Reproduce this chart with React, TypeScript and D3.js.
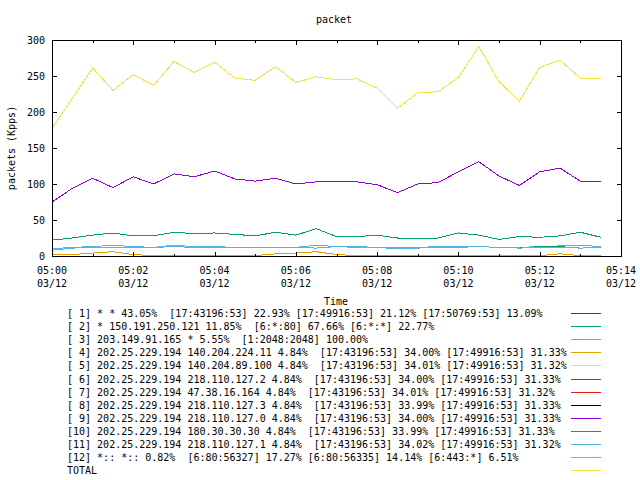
import React from 'react';
import * as d3 from 'd3';

// sample times (30 s interval), 03/12
const times = [
  '05:00:00', '05:00:30', '05:01:00', '05:01:30', '05:02:00', '05:02:30', '05:03:00',
  '05:03:30', '05:04:00', '05:04:30', '05:05:00', '05:05:30', '05:06:00', '05:06:30',
  '05:07:00', '05:07:30', '05:08:00', '05:08:30', '05:09:00', '05:09:30', '05:10:00',
  '05:10:30', '05:11:00', '05:11:30', '05:12:00', '05:12:30', '05:13:00', '05:13:30',
];

const s1 = [75, 94, 108, 95, 110, 100, 114, 110, 118, 107, 104, 108, 100, 103, 104, 103, 99, 88, 100, 102, 117, 131, 111, 98, 117, 122, 104, 104];
const s2 = [22, 25, 29, 32, 28, 28, 33, 31, 32, 30, 28, 33, 29, 38, 27, 27, 29, 25, 25, 25, 32, 29, 23, 27, 26, 28, 33, 26];
const s3 = [10, 12, 13, 15, 13, 12, 15, 13, 13, 12, 12, 12, 12, 15, 13, 13, 12, 12, 12, 13, 13, 13, 12, 12, 13, 14, 15, 13];
const s4 = [8, 11, 12, 12, 12, 12, 13, 12, 12, 12, 12, 12, 12, 11, 13, 12, 12, 10, 11, 12, 12, 13, 12, 11, 12, 12, 11, 12];
const s5 = [8, 11, 12, 12, 12, 12, 13, 12, 12, 12, 12, 12, 12, 11, 13, 12, 12, 10, 11, 12, 12, 13, 12, 11, 12, 12, 11, 12];
const s6 = [8, 11, 12, 12, 12, 12, 13, 12, 12, 12, 12, 12, 12, 11, 13, 12, 12, 10, 11, 12, 12, 13, 12, 11, 12, 12, 11, 12];
const s7 = [8, 11, 12, 12, 12, 12, 13, 12, 12, 12, 12, 12, 12, 11, 13, 12, 12, 10, 11, 12, 12, 13, 12, 11, 12, 12, 11, 12];
const s8 = [8, 11, 12, 12, 12, 12, 13, 12, 12, 12, 12, 12, 12, 11, 13, 12, 12, 10, 11, 12, 12, 13, 12, 11, 12, 12, 11, 12];
const s9 = [8, 11, 12, 12, 12, 12, 13, 12, 12, 12, 12, 12, 12, 11, 13, 12, 12, 10, 11, 12, 12, 13, 12, 11, 12, 12, 11, 12];
const s10 = [8, 11, 12, 12, 12, 12, 13, 12, 12, 12, 12, 12, 12, 11, 13, 12, 12, 10, 11, 12, 12, 13, 12, 11, 13, 13, 11, 12];
const s11 = [8, 11, 12, 12, 12, 12, 13, 12, 12, 12, 12, 12, 12, 11, 13, 12, 12, 10, 11, 12, 12, 13, 12, 11, 12, 12, 11, 12];
const s12 = [2, 2, 4, 6, 2, 0.5, 0.5, 0.5, 0.5, 0.5, 0.5, 3, 4, 6, 2, 0.5, 0.5, 0.5, 0.5, 0.5, 0.5, 0.5, 0.5, 0.5, 0.5, 3, 0.5, 0.5];
const total = [177, 219, 261, 230, 252, 237, 270, 255, 269, 247, 244, 263, 241, 249, 245, 246, 233, 205, 227, 228, 248, 291, 242, 215, 262, 272, 247, 247];

const labels = [
  '[ 1] * * 43.05%  [17:43196:53] 22.93% [17:49916:53] 21.12% [17:50769:53] 13.09%',
  '[ 2] * 150.191.250.121 11.85%  [6:*:80] 67.66% [6:*:*] 22.77%',
  '[ 3] 203.149.91.165 * 5.55%  [1:2048:2048] 100.00%',
  '[ 4] 202.25.229.194 140.204.224.11 4.84%  [17:43196:53] 34.00% [17:49916:53] 31.33%',
  '[ 5] 202.25.229.194 140.204.89.100 4.84%  [17:43196:53] 34.01% [17:49916:53] 31.32%',
  '[ 6] 202.25.229.194 218.110.127.2 4.84%  [17:43196:53] 34.00% [17:49916:53] 31.33%',
  '[ 7] 202.25.229.194 47.38.16.164 4.84%  [17:43196:53] 34.01% [17:49916:53] 31.32%',
  '[ 8] 202.25.229.194 218.110.127.3 4.84%  [17:43196:53] 33.99% [17:49916:53] 31.33%',
  '[ 9] 202.25.229.194 218.110.127.0 4.84%  [17:43196:53] 34.00% [17:49916:53] 31.33%',
  '[10] 202.25.229.194 180.30.30.30 4.84%  [17:43196:53] 33.99% [17:49916:53] 31.33%',
  '[11] 202.25.229.194 218.110.127.1 4.84%  [17:43196:53] 34.02% [17:49916:53] 31.32%',
  '[12] *:: *:: 0.82%  [6:80:56327] 17.27% [6:80:56335] 14.14% [6:443:*] 6.51%',
  'TOTAL',
];

const colors = ['#9400d3', '#009e73', '#56b4e9', '#e69f00', '#f0e442', '#0072b2', '#e51e10', '#000000',
  '#9400d3', '#009e73', '#56b4e9', '#e69f00', '#f0e442'];

const yTicks = [0, 50, 100, 150, 200, 250, 300];

const series = [s1, s2, s3, s4, s5, s6, s7, s8, s9, s10, s11, s12, total];

const font = "'DejaVu Sans Mono', monospace";

export default function App() {
  const width = 640;
  const height = 480;
  const left = 52, right = 621, top = 40, bottom = 256;

  const parse = (t: string) => new Date(`2000-03-12T${t}Z`);
  const dates = times.map(parse);

  const x = d3.scaleUtc()
    .domain([parse('05:00:00'), parse('05:14:00')])
    .range([left, right]);
  const y = d3.scaleLinear().domain([0, 300]).range([bottom, top]);

  const majorTicks = x.ticks(d3.utcMinute.every(2)!);
  const minorTicks = x.ticks(d3.utcMinute.every(1)!).filter(d => d.getUTCMinutes() % 2 === 1);
  const fmtTime = d3.utcFormat('%H:%M');
  const fmtDate = d3.utcFormat('%m/%d');

  const line = (vals: number[]) => d3.line<number>()
    .x((_, i) => x(dates[i]))
    .y(d => y(d))(vals) || '';

  return (
    <svg width={width} height={height} style={{ position: 'absolute', left: 0, top: 0, background: '#fff' }}
      fontFamily={font} fontSize={10}>
      <text x={334} y={23} textAnchor="middle">packet</text>

      {/* data lines */}
      <g fill="none" strokeWidth={1} shapeRendering="crispEdges">
        {series.map((s, i) => (
          <path key={i} d={line(s)} stroke={colors[i]} />
        ))}
      </g>

      {/* border and ticks */}
      <g stroke="#000" strokeWidth={1} shapeRendering="crispEdges">
        <rect x={left + 0.5} y={top + 0.5} width={right - left} height={bottom - top} fill="none" />
        {yTicks.map(t => (
          <g key={t}>
            <line x1={left} x2={left + 5} y1={Math.round(y(t)) + 0.5} y2={Math.round(y(t)) + 0.5} />
            <line x1={right + 1} x2={right - 4} y1={Math.round(y(t)) + 0.5} y2={Math.round(y(t)) + 0.5} />
          </g>
        ))}
        {majorTicks.map((t, i) => (
          <g key={i}>
            <line x1={Math.round(x(t)) + 0.5} x2={Math.round(x(t)) + 0.5} y1={bottom + 1} y2={bottom - 4} />
            <line x1={Math.round(x(t)) + 0.5} x2={Math.round(x(t)) + 0.5} y1={top} y2={top + 5} />
          </g>
        ))}
        {minorTicks.map((t, i) => (
          <g key={i}>
            <line x1={Math.round(x(t)) + 0.5} x2={Math.round(x(t)) + 0.5} y1={bottom + 1} y2={bottom - 2} />
            <line x1={Math.round(x(t)) + 0.5} x2={Math.round(x(t)) + 0.5} y1={top} y2={top + 3} />
          </g>
        ))}
      </g>

      {/* tick labels */}
      {yTicks.map(t => (
        <text key={t} x={45} y={y(t) + 4} textAnchor="end">{t}</text>
      ))}
      {majorTicks.map((t, i) => (
        <g key={i}>
          <text x={x(t)} y={274} textAnchor="middle">{fmtTime(t)}</text>
          <text x={x(t)} y={287} textAnchor="middle">{fmtDate(t)}</text>
        </g>
      ))}

      <text transform={`translate(15,148) rotate(-90)`} textAnchor="middle">packets (Kpps)</text>
      <text x={336} y={305} textAnchor="middle">Time</text>

      {/* legend */}
      {labels.map((lab, i) => {
        const cy = 313 + i * 13.1;
        return (
          <g key={i}>
            <text x={67} y={cy + 4} style={{ whiteSpace: 'pre' }}>{lab}</text>
            <line x1={571} x2={601} y1={Math.round(cy) + 0.5} y2={Math.round(cy) + 0.5}
              stroke={colors[i]} strokeWidth={1} shapeRendering="crispEdges" />
          </g>
        );
      })}
    </svg>
  );
}
